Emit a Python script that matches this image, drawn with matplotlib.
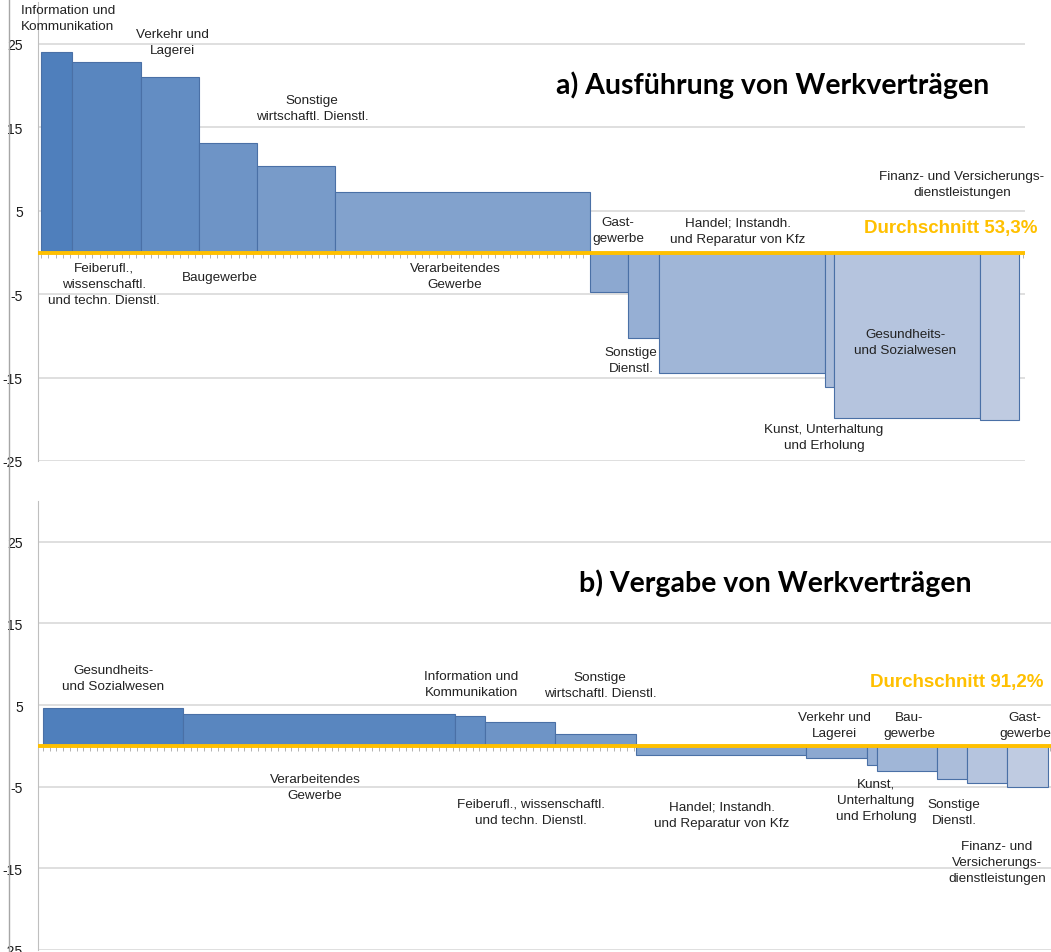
import numpy as np
import matplotlib.pyplot as plt
from matplotlib.colors import to_rgb
from matplotlib.lines import Line2D
from matplotlib.ticker import MultipleLocator, FixedLocator

W, H = 1051, 953

# === DATEN ===
# a) Ausführung von Werkverträgen: Breite = Anteil, Wert = Abweichung vom Durchschnitt
a_sektor = ["Information und Kommunikation", "Feiberufl., wissenschaftl. und techn. Dienstl.",
            "Verkehr und Lagerei", "Baugewerbe", "Sonstige wirtschaftl. Dienstl.",
            "Verarbeitendes Gewerbe", "Gastgewerbe", "Sonstige Dienstl.",
            "Handel; Instandh. und Reparatur von Kfz", "Kunst, Unterhaltung und Erholung",
            "Gesundheits- und Sozialwesen", "Finanz- und Versicherungsdienstleistungen"]
a_breite = [3.2, 7.0, 6.0, 5.9, 8.0, 26.1, 3.9, 3.1, 17.0, 1.0, 14.9, 4.0]
a_wert = [24.0, 22.9, 21.0, 13.1, 10.4, 7.3, -4.7, -10.2, -14.5, -16.1, -19.8, -20.1]
a_schnitt = "Durchschnitt 53,3%"

# b) Vergabe von Werkverträgen
b_sektor = ["Gesundheits- und Sozialwesen", "Verarbeitendes Gewerbe",
            "Information und Kommunikation", "Feiberufl., wissenschaftl. und techn. Dienstl.",
            "Sonstige wirtschaftl. Dienstl.", "Handel; Instandh. und Reparatur von Kfz",
            "Verkehr und Lagerei", "Kunst, Unterhaltung und Erholung", "Baugewerbe",
            "Sonstige Dienstl.", "Finanz- und Versicherungsdienstleistungen", "Gastgewerbe"]
b_breite = [14.0, 27.1, 3.0, 7.0, 8.1, 16.9, 6.1, 1.0, 6.0, 3.0, 4.0, 4.1]
b_wert = [4.7, 3.9, 3.7, 2.9, 1.5, -1.1, -1.5, -2.3, -3.1, -4.0, -4.5, -5.0]
b_schnitt = "Durchschnitt 91,2%"

y_ticks = [-25, -15, -5, 5, 15, 25]

# Beschriftungen (Text, x-Pixel, y-Pixel)
a_text = [
    ("Information und\nKommunikation", 68, 19),
    ("Verkehr und\nLagerei", 172, 43),
    ("Sonstige\nwirtschaftl. Dienstl.", 312, 109),
    ("Feiberufl.,\nwissenschaftl.\nund techn. Dienstl.", 104, 285),
    ("Baugewerbe", 220, 278),
    ("Verarbeitendes\nGewerbe", 455, 277),
    ("Gast-\ngewerbe", 618, 231),
    ("Handel; Instandh.\nund Reparatur von Kfz", 738, 232),
    ("Finanz- und Versicherungs-\ndienstleistungen", 962, 185),
    ("Sonstige\nDienstl.", 631, 361),
    ("Gesundheits-\nund Sozialwesen", 905, 343),
    ("Kunst, Unterhaltung\nund Erholung", 824, 438),
]
b_text = [
    ("Gesundheits-\nund Sozialwesen", 113, 679),
    ("Verarbeitendes\nGewerbe", 315, 788),
    ("Information und\nKommunikation", 471, 685),
    ("Sonstige\nwirtschaftl. Dienstl.", 600, 686),
    ("Feiberufl., wissenschaftl.\nund techn. Dienstl.", 531, 813),
    ("Handel; Instandh.\nund Reparatur von Kfz", 722, 816),
    ("Verkehr und\nLagerei", 834, 726),
    ("Bau-\ngewerbe", 909, 726),
    ("Gast-\ngewerbe", 1025, 726),
    ("Kunst,\nUnterhaltung\nund Erholung", 876, 801),
    ("Sonstige\nDienstl.", 954, 813),
    ("Finanz- und\nVersicherungs-\ndienstleistungen", 997, 863),
]

plt.rcParams["font.family"] = ["Liberation Sans", "DejaVu Sans"]
plt.rcParams["axes.unicode_minus"] = False

GRID = "#D9D9D9"
GOLD = "#FFC000"
EDGE = "#4A70A6"


def farben(n, c0="#4F7FBC", c1="#BFCBE1"):
    a, b = np.array(to_rgb(c0)), np.array(to_rgb(c1))
    return [tuple(a + (b - a) * i / (n - 1)) for i in range(n)]


def px(x, y):
    return x / W, 1 - y / H


def panel(rect, breite, wert, x_pad, tick_step):
    ax = fig.add_axes(rect)
    links = np.concatenate([[0], np.cumsum(breite)[:-1]])
    ax.bar(links, wert, width=breite, align="edge", color=farben(len(wert)),
           edgecolor=EDGE, linewidth=0.8, zorder=2)
    ax.axhline(0, color=GOLD, linewidth=2.8, zorder=3)
    total = sum(breite)
    ax.set_xlim(-x_pad[0], total + x_pad[1])
    ax.set_ylim(-25, 30)
    ax.yaxis.set_major_locator(FixedLocator(y_ticks))
    ax.grid(axis="y", color=GRID, linewidth=1.2, zorder=0)
    for s in ["top", "right"]:
        ax.spines[s].set_visible(False)
    ax.spines["left"].set_color("#BFBFBF")
    ax.spines["bottom"].set_position(("data", 0))
    ax.spines["bottom"].set_visible(False)
    ax.xaxis.set_major_locator(MultipleLocator(tick_step))
    ax.tick_params(axis="x", length=3.5, width=0.6, color="#A6A6A6", labelbottom=False)
    ax.tick_params(axis="y", length=0, pad=11, labelsize=10, labelcolor="#1a1a1a")
    ax.set_facecolor("none")
    return ax


fig = plt.figure(figsize=(W / 100, H / 100), dpi=100)

ax_a = panel([38 / W, 1 - 462 / H, (1025 - 38) / W, (462 - 3.3) / H],
             a_breite, a_wert, (0.3, 0.6), 0.75)
ax_b = panel([38 / W, 1 - 951 / H, (W - 38) / W, (951 - 502) / H],
             b_breite, b_wert, (0.5, 0.3), 0.67)

# linker Bildrand
fig.add_artist(Line2D([9 / W, 9 / W], [0, 1], color="#A6A6A6", linewidth=1,
                      transform=fig.transFigure))

for txt, x, y in a_text + b_text:
    fig.text(*px(x, y), txt, ha="center", va="center", fontsize=9.7,
             color="#222222", linespacing=1.45)

fig.text(*px(1038, 229), a_schnitt, ha="right", va="center", fontsize=13.5,
         fontweight="bold", color=GOLD)
fig.text(*px(1043, 683), b_schnitt, ha="right", va="center", fontsize=13.5,
         fontweight="bold", color=GOLD)

fig.text(*px(773, 85), "a) Ausführung von Werkverträgen", ha="center", va="center",
         fontsize=20.5, fontweight="bold", family=["Lato", "DejaVu Sans"])
fig.text(*px(775, 583), "b) Vergabe von Werkverträgen", ha="center", va="center",
         fontsize=20.5, fontweight="bold", family=["Lato", "DejaVu Sans"])

fig.savefig("out.png", dpi=100)
